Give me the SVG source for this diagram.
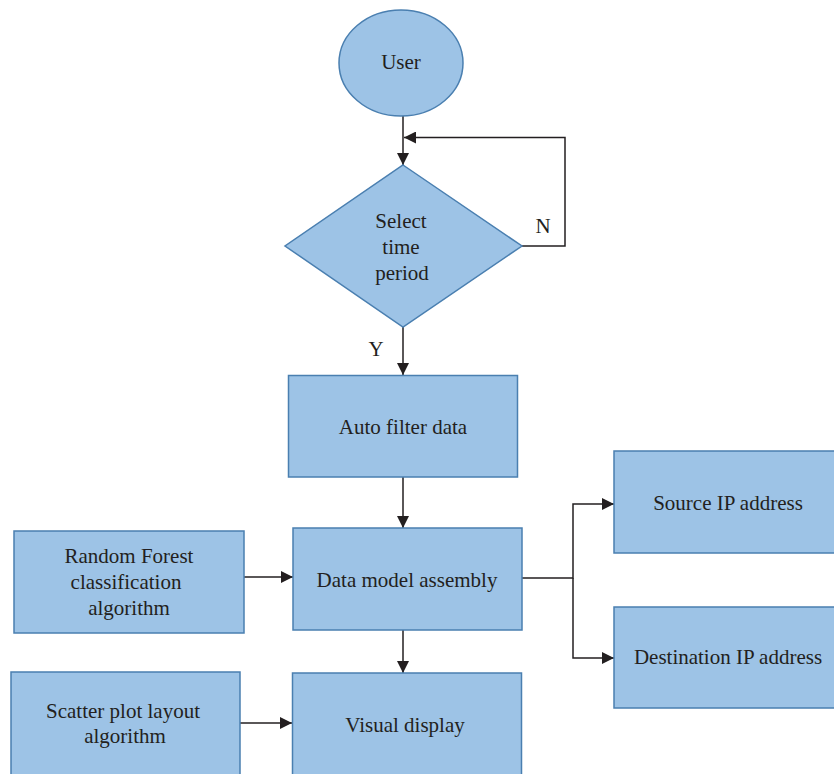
<svg xmlns="http://www.w3.org/2000/svg" width="834" height="774" viewBox="0 0 834 774">
<defs>
<style>
.n{fill:#9dc3e6;stroke:#4a7fb0;stroke-width:1.5}
.t{font-family:"Liberation Serif",serif;font-size:21px;fill:#231f20;text-anchor:middle}
.c{fill:none;stroke:#231f20;stroke-width:1.5}
</style>
<marker id="a" markerWidth="12" markerHeight="12" refX="10" refY="5" orient="auto" markerUnits="userSpaceOnUse" viewBox="0 0 10 10">
<path d="M0,0 L10,5 L0,10 Z" fill="#231f20"/>
</marker>
</defs>
<rect width="834" height="774" fill="#fff"/>
<g id="connectors">
<path class="c" d="M403,116 V165" marker-end="url(#a)"/>
<path class="c" d="M522,246 H565 V137.5 H404" marker-end="url(#a)"/>
<path class="c" d="M403,327 V375" marker-end="url(#a)"/>
<path class="c" d="M403,477 V528" marker-end="url(#a)"/>
<path class="c" d="M244,577 H293" marker-end="url(#a)"/>
<path class="c" d="M240,723 H292" marker-end="url(#a)"/>
<path class="c" d="M403,630 V673" marker-end="url(#a)"/>
<path class="c" d="M522,578 H573 V504 H614" marker-end="url(#a)"/>
<path class="c" d="M573,578 V658 H614" marker-end="url(#a)"/>
<text class="t" x="543" y="233">N</text>
<text class="t" x="376" y="356">Y</text>
</g>
<g id="user">
<ellipse class="n" cx="401" cy="63" rx="62" ry="53"/>
<text class="t" x="401" y="69">User</text>
</g>
<g id="select">
<polygon class="n" points="403,165 522,246 403,327 285,246"/>
<text class="t" x="401" y="228">Select</text>
<text class="t" x="401" y="254">time</text>
<text class="t" x="402" y="280">period</text>
</g>
<g id="autofilter">
<rect class="n" x="288.5" y="375.5" width="229" height="101.5"/>
<text class="t" x="403" y="434">Auto filter data</text>
</g>
<g id="datamodel">
<rect class="n" x="293" y="528" width="229" height="102"/>
<text class="t" x="407" y="587">Data model assembly</text>
</g>
<g id="randomforest">
<rect class="n" x="14" y="531" width="230" height="102"/>
<text class="t" x="129" y="563">Random Forest</text>
<text class="t" x="126" y="589">classification</text>
<text class="t" x="129" y="615">algorithm</text>
</g>
<g id="scatter">
<rect class="n" x="11" y="672" width="229" height="110"/>
<text class="t" x="123" y="718">Scatter plot layout</text>
<text class="t" x="125" y="743">algorithm</text>
</g>
<g id="visual">
<rect class="n" x="292.5" y="673" width="229" height="110"/>
<text class="t" x="405" y="732">Visual display</text>
</g>
<g id="source">
<rect class="n" x="614" y="451" width="230" height="102"/>
<text class="t" x="728" y="510">Source IP address</text>
</g>
<g id="destination">
<rect class="n" x="614" y="607" width="230" height="101"/>
<text class="t" x="728" y="664">Destination IP address</text>
</g>
</svg>
